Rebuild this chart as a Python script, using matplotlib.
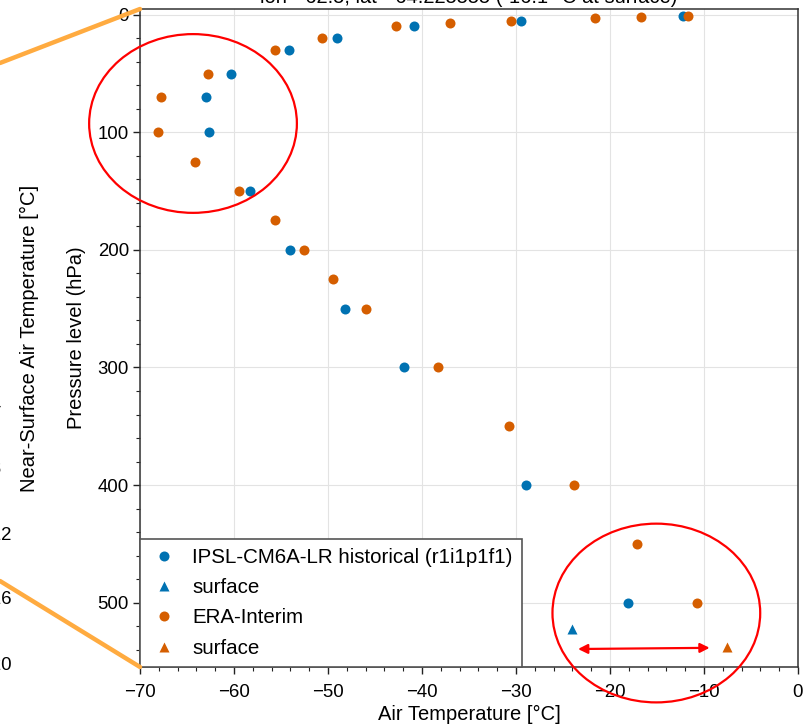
import matplotlib
matplotlib.use("Agg")
import matplotlib.pyplot as plt
from matplotlib.patches import Ellipse, ConnectionPatch
from matplotlib.ticker import MultipleLocator
from matplotlib.cm import ScalarMappable
from matplotlib.colors import Normalize

plt.rcParams["font.family"] = ["Liberation Sans", "DejaVu Sans"]
plt.rcParams["axes.unicode_minus"] = True

# model profile (IPSL-CM6A-LR historical)
ipsl_plev = [1, 5, 10, 20, 30, 50, 70, 100, 150, 200, 250, 300, 400, 500]
ipsl_ta = [-12.2, -29.5, -40.9, -49.0, -54.1, -60.35, -63.0, -62.7,
           -58.3, -54.0, -48.2, -41.9, -28.9, -18.05]
ipsl_sfc_ta = [-24.0]
ipsl_sfc_p = [522.6]

# reanalysis profile (ERA-Interim)
era_plev = [1, 2, 3, 5, 7, 10, 20, 30, 50, 70, 100, 125, 150, 175, 200,
            225, 250, 300, 350, 400, 450, 500]
era_ta = [-11.7, -16.7, -21.6, -30.5, -37.0, -42.8, -50.6, -55.6, -62.8,
          -67.8, -68.1, -64.1, -59.5, -55.6, -52.6, -49.5, -46.0, -38.3,
          -30.7, -23.8, -17.1, -10.7]
era_sfc_ta = [-7.6]
era_sfc_p = [537.4]

title = "lon=-62.5, lat=-64.225555 (-16.1 °C at surface)"
cbar_ticks = list(range(-20, 21, 4))

BLUE = "#0072B2"
ORANGE = "#D55E00"
W, H = 804, 727

fig = plt.figure(figsize=(W / 100, H / 100), dpi=100)
ax = fig.add_axes([140 / W, 1 - 667 / H, 658 / W, 658 / H])

ax.plot(ipsl_ta, ipsl_plev, "o", color=BLUE, ms=7.2, mec="none",
        label="IPSL-CM6A-LR historical (r1i1p1f1)")
ax.plot(ipsl_sfc_ta, ipsl_sfc_p, "^", color=BLUE, ms=7.5, mec="none",
        label="surface")
ax.plot(era_ta, era_plev, "o", color=ORANGE, ms=7.2, mec="none",
        label="ERA-Interim")
ax.plot(era_sfc_ta, era_sfc_p, "^", color=ORANGE, ms=7.5, mec="none",
        label="surface")

ax.set_xlim(-70, 0)
ax.set_ylim(554.7, -4.85)
ax.xaxis.set_major_locator(MultipleLocator(10))
ax.xaxis.set_minor_locator(MultipleLocator(2))
ax.yaxis.set_major_locator(MultipleLocator(100))
ax.yaxis.set_minor_locator(MultipleLocator(20))
ax.tick_params(which="major", direction="out", length=5, width=1,
               labelsize=13.4, color="#222222")
ax.tick_params(axis="x", which="major", pad=7)
ax.tick_params(axis="y", which="major", pad=3)
ax.tick_params(which="minor", direction="out", length=3, width=0.8,
               color="#222222")
ax.grid(True, which="major", color="#e3e3e3", linewidth=0.8)
ax.set_axisbelow(True)
for spine in ax.spines.values():
    spine.set_color("#333333")
    spine.set_linewidth(1.1)

ax.set_xlabel("Air Temperature [°C]", fontsize=14.5, labelpad=3)
ax.set_ylabel("Pressure level (hPa)", fontsize=14.5, labelpad=8)
ax.set_title(title, fontsize=14.5, pad=4)

leg = ax.legend(loc="lower left", borderaxespad=0, fancybox=False,
                edgecolor="#555555", framealpha=1, fontsize=14.8,
                labelspacing=0.55, handlelength=1.4, handletextpad=0.7,
                borderpad=0.45)
leg.get_frame().set_linewidth(1.2)

# red highlight ellipses and arrow
for cx, cy in [(-64.36, 92.5), (-15.07, 508.8)]:
    ax.add_patch(Ellipse((cx, cy), 22.1, 152, fill=False, edgecolor="red",
                         linewidth=1.6, clip_on=False, zorder=5))
ax.annotate("", xy=(-9.4, 538.4), xytext=(-23.4, 539.4),
            arrowprops=dict(arrowstyle="<|-|>", color="red", lw=1.6,
                            mutation_scale=14, shrinkA=0, shrinkB=0))

# colorbar of the neighbouring map panel (mostly outside the crop)
cax = fig.add_axes([-41 / W, 1 - 663 / H, 10 / W, 650 / H])
cb = fig.colorbar(ScalarMappable(norm=Normalize(-20, 20), cmap="RdBu_r"),
                  cax=cax, ticks=cbar_ticks)
cb.ax.tick_params(labelsize=13.4, length=5, pad=3)
cb.set_label("Near-Surface Air Temperature [°C]", fontsize=14.5, labelpad=6)

# zoom connector lines from the map panel
for ya, yb in [(1.0, 1 - 63 / H), (0.0, 1 - 581 / H)]:
    con = ConnectionPatch(xyA=(0, ya), coordsA=ax.transAxes,
                          xyB=(0, yb), coordsB=fig.transFigure,
                          color="#ffab40", linewidth=3.2, zorder=10)
    fig.add_artist(con)

fig.savefig("out.png", dpi=100)
